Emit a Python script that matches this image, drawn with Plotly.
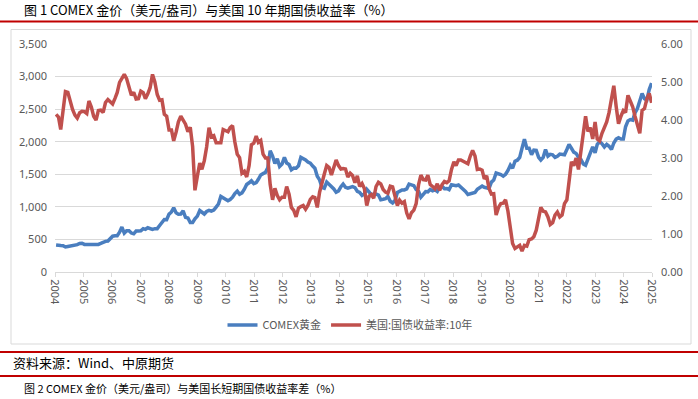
import plotly.graph_objects as go
import pandas as pd

# ---------------- data (monthly) ----------------
dates = pd.date_range("2004-01-01", periods=254, freq="MS") + pd.Timedelta(days=14)

gold = [
    414, 405, 406, 404, 384, 392, 398, 400, 406, 420, 439, 442,          # 2004
    424, 423, 434, 429, 422, 431, 424, 438, 456, 470, 476, 510,          # 2005
    549, 555, 557, 610, 690, 596, 633, 632, 598, 586, 628, 629,          # 2006
    631, 665, 655, 679, 667, 655, 665, 665, 713, 754, 806, 803,          # 2007
    889, 922, 985, 909, 888, 889, 939, 839, 829, 760, 760, 816,          # 2008
    858, 943, 924, 890, 929, 946, 934, 949, 996, 1043, 1160, 1134,       # 2009
    1118, 1095, 1113, 1148, 1205, 1240, 1193, 1215, 1271, 1343, 1370, 1400,  # 2010
    1356, 1372, 1424, 1490, 1510, 1529, 1600, 1860, 1780, 1665, 1739, 1620,  # 2011
    1656, 1760, 1673, 1650, 1570, 1596, 1594, 1630, 1760, 1747, 1721, 1688,  # 2012
    1671, 1627, 1593, 1470, 1414, 1300, 1286, 1380, 1349, 1316, 1275, 1225,  # 2013
    1244, 1310, 1350, 1299, 1287, 1300, 1311, 1296, 1239, 1222, 1176, 1200,  # 2014
    1270, 1227, 1178, 1198, 1199, 1181, 1110, 1117, 1125, 1160, 1086, 1060,  # 2015
    1097, 1220, 1246, 1260, 1260, 1276, 1350, 1341, 1326, 1266, 1238, 1150,  # 2016
    1192, 1234, 1231, 1266, 1246, 1260, 1236, 1300, 1315, 1280, 1283, 1265,  # 2017
    1340, 1331, 1325, 1335, 1303, 1282, 1238, 1190, 1198, 1215, 1221, 1270,  # 2018
    1300, 1320, 1300, 1285, 1284, 1380, 1413, 1520, 1511, 1495, 1471, 1500,  # 2019
    1560, 1640, 1592, 1700, 1716, 1760, 1900, 2040, 1900, 1900, 1800, 1870,  # 2020
    1867, 1760, 1718, 1760, 1880, 1780, 1807, 1800, 1760, 1777, 1810, 1800,  # 2021
    1800, 1880, 1960, 1900, 1840, 1820, 1760, 1730, 1660, 1640, 1740, 1810,  # 2022
    1920, 1830, 1960, 2000, 1970, 1920, 1960, 1930, 1880, 1980, 2040, 2060,  # 2023
    2040, 2040, 2230, 2320, 2340, 2330, 2440, 2510, 2650, 2740, 2660, 2640,  # 2024
    2800, 2900,                                                          # 2025
]

ust10y = [
    4.15, 4.08, 3.75, 4.35, 4.75, 4.73, 4.50, 4.28, 4.13, 4.05, 4.19, 4.23,  # 2004
    4.22, 4.17, 4.50, 4.34, 4.10, 4.00, 4.25, 4.26, 4.20, 4.46, 4.54, 4.47,  # 2005
    4.42, 4.57, 4.72, 4.99, 5.11, 5.20, 5.09, 4.88, 4.65, 4.73, 4.55, 4.56,  # 2006
    4.76, 4.72, 4.56, 4.69, 4.85, 5.20, 5.00, 4.67, 4.52, 4.53, 4.15, 4.10,  # 2007
    3.74, 3.74, 3.45, 3.68, 3.95, 4.10, 4.01, 3.89, 3.69, 3.81, 3.30, 2.15,  # 2008
    2.52, 2.87, 2.70, 2.93, 3.29, 3.80, 3.56, 3.59, 3.40, 3.39, 3.40, 3.75,  # 2009
    3.73, 3.69, 3.80, 3.85, 3.42, 3.10, 3.01, 2.60, 2.65, 2.50, 2.80, 3.35,  # 2010
    3.39, 3.58, 3.41, 3.46, 3.10, 3.00, 3.00, 2.30, 1.90, 2.20, 2.01, 1.90,  # 2011
    1.97, 1.97, 2.25, 2.05, 1.70, 1.62, 1.45, 1.68, 1.72, 1.75, 1.65, 1.75,  # 2012
    1.91, 1.98, 1.96, 1.70, 2.10, 2.40, 2.58, 2.80, 2.75, 2.55, 2.75, 2.95,  # 2013
    2.80, 2.71, 2.72, 2.71, 2.50, 2.60, 2.54, 2.35, 2.53, 2.25, 2.33, 2.20,  # 2014
    1.75, 2.00, 2.04, 1.94, 2.25, 2.36, 2.32, 2.17, 2.10, 2.07, 2.26, 2.24,  # 2015
    2.00, 1.75, 1.89, 1.81, 1.85, 1.55, 1.40, 1.56, 1.63, 1.80, 2.30, 2.55,  # 2016
    2.43, 2.42, 2.55, 2.30, 2.25, 2.19, 2.32, 2.15, 2.30, 2.38, 2.35, 2.40,  # 2017
    2.70, 2.90, 2.80, 2.95, 2.95, 2.91, 2.89, 2.85, 3.05, 3.20, 3.05, 2.70,  # 2018
    2.71, 2.68, 2.45, 2.53, 2.20, 2.05, 2.06, 1.50, 1.70, 1.80, 1.81, 1.90,  # 2019
    1.60, 1.20, 0.75, 0.62, 0.67, 0.70, 0.55, 0.70, 0.68, 0.85, 0.87, 0.93,  # 2020
    1.10, 1.40, 1.70, 1.60, 1.58, 1.45, 1.25, 1.30, 1.50, 1.58, 1.45, 1.50,  # 2021
    1.80, 1.90, 2.30, 2.90, 2.80, 3.00, 2.70, 3.15, 3.70, 4.10, 3.70, 3.80,  # 2022
    3.50, 3.95, 3.50, 3.45, 3.65, 3.80, 3.95, 4.20, 4.55, 4.90, 4.35, 3.90,  # 2023
    4.10, 4.25, 4.20, 4.65, 4.50, 4.35, 4.10, 3.85, 3.65, 4.25, 4.30, 4.55,  # 2024
    4.70, 4.45,                                                              # 2025
]

years = [str(y) for y in range(2004, 2026)]

title1 = "图 1 COMEX 金价（美元/盎司）与美国 10 年期国债收益率（%）"
title2 = "图 2 COMEX 金价（美元/盎司）与美国长短期国债收益率差（%）"
source = "资料来源：Wind、中原期货"
name_gold = "COMEX黄金"
name_yield = "美国:国债收益率:10年"

# ---------------- layout helpers ----------------
W, H = 698, 399
PL, PR, PT, PB = 55, 652, 44, 272   # plot area in pixels


def px(x):
    return (x - PL) / (PR - PL)


def py(y):
    return (PB - y) / (PB - PT)


x_start = pd.Timestamp("2004-01-01")
x_end = pd.Timestamp("2025-02-20")
step = (x_end - x_start) / 21
tickvals = [x_start + i * step for i in range(22)]

BLUE = "#4A7EBF"
RED = "#C0504D"
GRID = "#D9D9D9"
TXT = "#595959"

fig = go.Figure()
fig.add_trace(go.Scatter(x=dates, y=gold, name=name_gold, mode="lines",
                         line=dict(color=BLUE, width=3.5), yaxis="y"))
fig.add_trace(go.Scatter(x=dates, y=ust10y, name=name_yield, mode="lines",
                         line=dict(color=RED, width=3.5), yaxis="y2"))

fig.update_layout(
    width=W, height=H,
    margin=dict(l=PL, r=W - PR, t=PT, b=H - PB, pad=0),
    paper_bgcolor="white", plot_bgcolor="white",
    showlegend=True,
    legend=dict(orientation="h", x=px(350), xanchor="center", y=py(325), yanchor="middle",
                font=dict(family="Noto Sans CJK SC", size=11, color=TXT),
                itemwidth=30, bgcolor="rgba(0,0,0,0)", tracegroupgap=0),
    xaxis=dict(type="date", range=[x_start, x_end], tickvals=tickvals, ticktext=years,
               tickangle=90, showgrid=False, showline=True, linecolor=GRID, linewidth=1,
               ticks="outside", ticklen=4, tickcolor=GRID,
               tickfont=dict(family="Noto Sans", size=11, color=TXT), zeroline=False),
    yaxis=dict(range=[0, 3500], dtick=500, tickformat=",", showgrid=True, gridcolor=GRID,
               gridwidth=1, zeroline=False, showline=False, ticks="", ticklabelstandoff=7,
               tickfont=dict(family="Noto Sans", size=11, color=TXT)),
    yaxis2=dict(range=[0, 6], dtick=1, tickformat=".2f", overlaying="y", side="right",
                showgrid=False, zeroline=False, showline=False, ticks="", ticklabelstandoff=8,
                tickfont=dict(family="Noto Sans", size=11, color=TXT)),
    shapes=[
        dict(type="rect", xref="paper", yref="paper", x0=px(11), x1=px(691), y0=py(344), y1=py(29.5),
             line=dict(color=GRID, width=1), fillcolor="rgba(0,0,0,0)", layer="below"),
        dict(type="line", xref="paper", yref="paper", x0=px(0), x1=px(698), y0=py(21.5), y1=py(21.5),
             line=dict(color="#C00000", width=2)),
        dict(type="line", xref="paper", yref="paper", x0=px(0), x1=px(698), y0=py(352), y1=py(352),
             line=dict(color="#C00000", width=2)),
        dict(type="line", xref="paper", yref="paper", x0=px(0), x1=px(698), y0=py(376), y1=py(376),
             line=dict(color="#C00000", width=2)),
    ],
    annotations=[
        dict(text=title1, xref="paper", yref="paper", x=px(22), y=py(9), xanchor="left", yanchor="middle",
             showarrow=False, font=dict(family="Noto Sans CJK SC", size=13, color="#000000")),
        dict(text=source, xref="paper", yref="paper", x=px(11), y=py(362.5), xanchor="left", yanchor="middle",
             showarrow=False, font=dict(family="Noto Sans CJK SC", size=13, color="#000000")),
        dict(text=title2, xref="paper", yref="paper", x=px(22), y=py(388), xanchor="left", yanchor="middle",
             showarrow=False, font=dict(family="Noto Sans CJK SC", size=11, color="#000000")),
    ],
)

fig.write_html("out.html", config={"displayModeBar": False},
               post_script="document.body.style.margin='0';document.body.style.overflow='hidden';")
